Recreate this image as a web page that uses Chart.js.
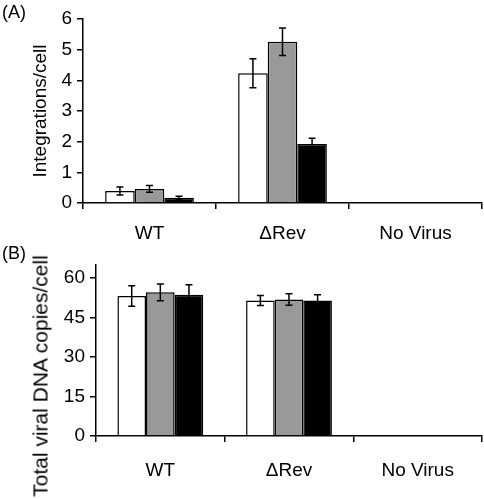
<!DOCTYPE html>
<html>
<head>
<meta charset="utf-8">
<script src="https://cdn.jsdelivr.net/npm/chart.js@4"></script>
<style>
  body { margin: 0; background: #fff; width: 484px; height: 499px; position: relative; overflow: hidden; font-family: "Liberation Sans", Arial, sans-serif; }
  canvas { position: absolute; left: 0; }
  .panel { position: absolute; left: 2px; font-size: 18px; line-height: 1; }
  .ytitle { position: absolute; white-space: nowrap; font-size: 21px; line-height: 1; transform: translate(-50%, -50%) rotate(-90deg); }
</style>
</head>
<body>
<canvas id="chartA" width="484" height="245" style="top:0"></canvas>
<canvas id="chartB" width="484" height="254" style="top:245px"></canvas>
<div class="panel" style="top:3px">(A)</div>
<div class="panel" style="top:244px">(B)</div>
<div class="ytitle" style="left:40px; top:376px">Total viral DNA copies/cell</div>
<script>
const groups = ['WT', 'ΔRev', 'No Virus'];

// (A) integrations per cell
const intWhite = [0.39, 4.23, null];
const intWhiteErr = [0.13, 0.47, null];
const intGray = [0.46, 5.26, null];
const intGrayErr = [0.11, 0.45, null];
const intBlack = [0.17, 1.92, null];
const intBlackErr = [0.05, 0.19, null];

// (B) total viral DNA copies per cell
const dnaWhite = [53.2, 51.5, null];
const dnaWhiteErr = [3.9, 1.9, null];
const dnaGray = [54.6, 51.9, null];
const dnaGrayErr = [3.2, 2.2, null];
const dnaBlack = [53.7, 51.5, null];
const dnaBlackErr = [3.8, 2.2, null];

const FONT = '"Liberation Sans", Arial, sans-serif';

// draws the I-beam error bars on top of each bar
const errorBars = {
  id: 'errorBars',
  afterDatasetsDraw(chart) {
    const ctx = chart.ctx;
    const y = chart.scales.y;
    ctx.save();
    ctx.strokeStyle = '#000';
    ctx.lineWidth = 1.5;
    chart.data.datasets.forEach((ds, i) => {
      const meta = chart.getDatasetMeta(i);
      meta.data.forEach((bar, j) => {
        const v = ds.data[j], e = ds.errors[j];
        if (v == null || e == null) return;
        const x = bar.x;
        const yTop = y.getPixelForValue(v + e);
        const yBot = y.getPixelForValue(v - e);
        ctx.beginPath();
        ctx.moveTo(x, yTop); ctx.lineTo(x, yBot);
        ctx.moveTo(x - 3.5, yTop); ctx.lineTo(x + 3.5, yTop);
        ctx.moveTo(x - 3.5, yBot); ctx.lineTo(x + 3.5, yBot);
        ctx.stroke();
      });
    });
    ctx.restore();
  }
};

function barSet(data, errors, color) {
  return {
    data: data,
    errors: errors,
    backgroundColor: color,
    borderColor: '#000',
    borderWidth: 1.5,
    categoryPercentage: 0.667,
    barPercentage: 1.0
  };
}

function makeChart(id, sets, yOpts, layout) {
  return new Chart(document.getElementById(id), {
    type: 'bar',
    data: { labels: groups, datasets: sets },
    plugins: [errorBars],
    options: {
      responsive: false,
      animation: false,
      events: [],
      layout: { padding: layout.padding },
      plugins: { legend: { display: false }, tooltip: { enabled: false } },
      scales: {
        x: {
          grid: { drawOnChartArea: false, tickLength: 6, color: '#000', lineWidth: 1.5, offset: true },
          border: { color: '#000', width: 1.5 },
          ticks: { color: '#000', font: { family: FONT, size: 19 }, padding: layout.xPad },
          afterFit: s => { s.height = layout.xHeight; }
        },
        y: Object.assign({
          grid: { drawOnChartArea: false, tickLength: 6, color: '#000', lineWidth: 1.5 },
          border: { color: '#000', width: 1.5 },
          afterFit: s => { s.width = layout.yWidth; }
        }, yOpts)
      }
    }
  });
}

makeChart('chartA', [
  barSet(intWhite, intWhiteErr, '#ffffff'),
  barSet(intGray, intGrayErr, '#999999'),
  barSet(intBlack, intBlackErr, '#000000')
], {
  min: 0, max: 6,
  ticks: { stepSize: 1, color: '#000', font: { family: FONT, size: 19 }, padding: 5 },
  title: { display: true, text: 'Integrations/cell', color: '#000', font: { family: FONT, size: 19 }, padding: { top: 29, bottom: 0 } }
}, { padding: { top: 19, right: 2, left: 0, bottom: 0 }, xHeight: 42, yWidth: 83, xPad: 13 });

makeChart('chartB', [
  barSet(dnaWhite, dnaWhiteErr, '#ffffff'),
  barSet(dnaGray, dnaGrayErr, '#999999'),
  barSet(dnaBlack, dnaBlackErr, '#000000')
], {
  min: 0, max: 65,
  ticks: { stepSize: 15, includeBounds: false, color: '#000', font: { family: FONT, size: 19 }, padding: 5 },
  title: { display: false }
}, { padding: { top: 20, right: 2, left: 0, bottom: 0 }, xHeight: 63, yWidth: 96, xPad: 17 });
</script>
</body>
</html>
